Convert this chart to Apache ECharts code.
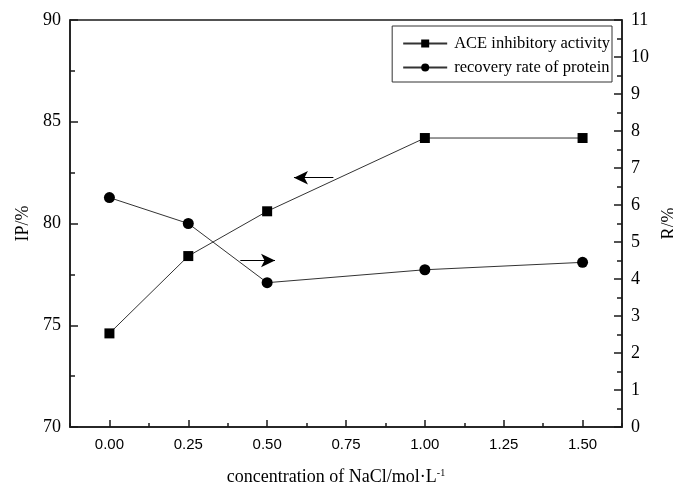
<!DOCTYPE html>
<html>
<head>
<meta charset="utf-8">
<script src="https://cdn.jsdelivr.net/npm/echarts@6/dist/echarts.min.js"></script>
<style>
  html, body { margin: 0; padding: 0; background: #fff; }
  #main { width: 673px; height: 488px; }
</style>
</head>
<body>
<div id="main"></div>
<script>
  // NaCl concentration (mol/L)
  var nacl = [0.0, 0.25, 0.5, 1.0, 1.5];
  // ACE inhibitory activity, IP/%
  var ipValues = [74.6, 78.4, 80.6, 84.2, 84.2];
  // recovery rate of protein, R/%
  var rValues = [6.2, 5.5, 3.9, 4.25, 4.45];
  var xTicks = [0, 0.25, 0.5, 0.75, 1.0, 1.25, 1.5];
  // annotation arrows [from, to] in data units
  var arrowLeft = [[0.71, 82.25], [0.585, 82.25]];
  var arrowRight = [[0.415, 4.5], [0.525, 4.5]];

  var serif = "Liberation Serif";
  var axisColor = "#1a1a1a";
  var chart = echarts.init(document.getElementById("main"));

  var arrowStyle = {
    silent: true,
    symbol: ["none", "arrow"],
    symbolSize: [10, 14],
    lineStyle: { color: "#000", width: 1, type: "solid" },
    label: { show: false },
    emphasis: { disabled: true }
  };

  var option = {
    backgroundColor: "#fff",
    animation: false,
    grid: {
      left: 70, right: 51, top: 20, bottom: 61,
      outerBoundsMode: "none",
      show: true, borderColor: axisColor, borderWidth: 1.5
    },
    legend: {
      orient: "vertical",
      right: 61, top: 26,
      itemWidth: 44, itemHeight: 10, itemGap: 7,
      padding: [9, 2, 6, 10],
      borderColor: "#333", borderWidth: 1,
      textStyle: { fontFamily: serif, fontSize: 16.5, color: "#000", padding: [0, 0, 0, 2] },
      data: ["ACE inhibitory activity", "recovery rate of protein"]
    },
    xAxis: [
      {
        type: "value", min: -0.125, max: 1.625,
        position: "bottom",
        splitLine: { show: false },
        axisLine: { onZero: false, lineStyle: { color: axisColor, width: 1.5 } },
        axisTick: { inside: true, length: 7, customValues: xTicks, lineStyle: { color: axisColor, width: 1.5 } },
        axisLabel: {
          customValues: xTicks, margin: 10,
          fontFamily: "Liberation Sans", fontSize: 15, color: "#000",
          formatter: function (v) { return v.toFixed(2); }
        },
        name: "concentration of NaCl/mol·L{sup|-1}",
        nameLocation: "middle", nameGap: 41,
        nameTextStyle: {
          fontFamily: serif, fontSize: 18, color: "#000", padding: [0, 20, 0, 0],
          rich: { sup: { fontFamily: serif, fontSize: 10, verticalAlign: "top", padding: [0, 0, 9, 0], color: "#000" } }
        }
      },
      {
        type: "value", min: -0.125, max: 1.625, interval: 0.25,
        position: "bottom",
        splitLine: { show: false },
        axisLine: { show: false, onZero: false },
        axisTick: { inside: true, length: 4, lineStyle: { color: axisColor, width: 1.5 } },
        axisLabel: { show: false }
      }
    ],
    yAxis: [
      {
        type: "value", min: 70, max: 90, interval: 5,
        position: "left",
        splitLine: { show: false },
        axisLine: { show: true, onZero: false, lineStyle: { color: axisColor, width: 1.5 } },
        axisTick: { inside: true, length: 8, lineStyle: { color: axisColor, width: 1.5 } },
        minorTick: { show: true, splitNumber: 2, length: 5, lineStyle: { color: axisColor, width: 1.5 } },
        axisLabel: { fontFamily: serif, fontSize: 18, color: "#000", margin: 9, verticalAlign: "middle" },
        name: "IP/%", nameLocation: "middle", nameGap: 38,
        nameTextStyle: { fontFamily: serif, fontSize: 18, color: "#000" }
      },
      {
        type: "value", min: 0, max: 11, interval: 1,
        position: "right",
        splitLine: { show: false },
        axisLine: { show: true, onZero: false, lineStyle: { color: axisColor, width: 1.5 } },
        axisTick: { inside: true, length: 8, lineStyle: { color: axisColor, width: 1.5 } },
        minorTick: { show: true, splitNumber: 2, length: 5, lineStyle: { color: axisColor, width: 1.5 } },
        axisLabel: { fontFamily: serif, fontSize: 18, color: "#000", margin: 9 },
        name: "R/%", nameLocation: "middle", nameGap: 36, nameRotate: 90,
        nameTextStyle: { fontFamily: serif, fontSize: 18, color: "#000" }
      }
    ],
    series: [
      {
        name: "ACE inhibitory activity",
        type: "line", xAxisIndex: 0, yAxisIndex: 0,
        data: nacl.map(function (x, i) { return [x, ipValues[i]]; }),
        symbol: "rect", symbolSize: 10,
        itemStyle: { color: "#000" },
        lineStyle: { color: "#333", width: 1 },
        markLine: Object.assign({
          data: [[{ coord: arrowLeft[0] }, { coord: arrowLeft[1] }]]
        }, arrowStyle)
      },
      {
        name: "recovery rate of protein",
        type: "line", xAxisIndex: 0, yAxisIndex: 1,
        data: nacl.map(function (x, i) { return [x, rValues[i]]; }),
        symbol: "circle", symbolSize: 11,
        itemStyle: { color: "#000" },
        lineStyle: { color: "#333", width: 1 },
        markLine: Object.assign({
          data: [[{ coord: arrowRight[0] }, { coord: arrowRight[1] }]]
        }, arrowStyle)
      }
    ]
  };
  chart.setOption(option);
</script>
</body>
</html>
